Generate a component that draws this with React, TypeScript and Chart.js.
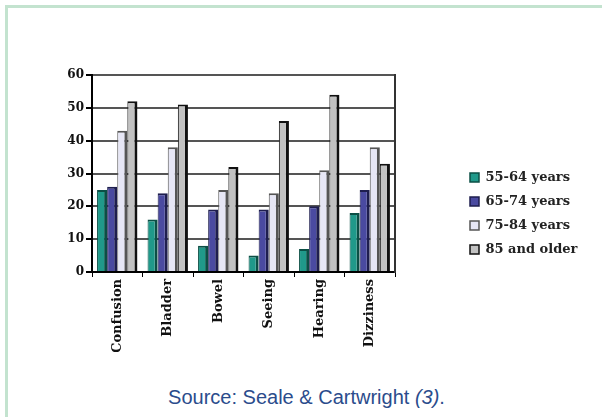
import React, { useEffect, useRef } from "react";
import { Chart, registerables } from "chart.js";

Chart.register(...registerables);

const categories = ["Confusion", "Bladder", "Bowel", "Seeing", "Hearing", "Dizziness"];
const seriesLabels = ["55-64 years", "65-74 years", "75-84 years", "85 and older"];
const s5564 = [25, 16, 8, 5, 7, 18];
const s6574 = [26, 24, 19, 19, 20, 25];
const s7584 = [43, 38, 25, 24, 31, 38];
const s85 = [52, 51, 32, 46, 54, 33];
const yTicks = [0, 10, 20, 30, 40, 50, 60];

const fills = ["#20998a", "#4a4aa0", "#e6e6f5", "#c2c2c2"];
const borders = ["#0b4f45", "#1e1e4e", "#555555", "#111111"];

const LEGEND_FONT = { family: "DejaVu Serif", size: 13, weight: "bold" as const };

export default function App() {
  const ref = useRef<HTMLCanvasElement | null>(null);

  useEffect(() => {
    if (!ref.current) return;
    const canvasW = 560;
    const plotRight = 355;
    const frameW = 64;
    const boxW = 9;
    const legendPad = 11;
    const mctx = document.createElement("canvas").getContext("2d")!;
    mctx.font = `bold ${LEGEND_FONT.size}px ${LEGEND_FONT.family}`;
    const textW = Math.max(...seriesLabels.map((t) => mctx.measureText(t).width));
    const legendW = legendPad + boxW + LEGEND_FONT.size / 2 + textW + 10;
    const padRight = Math.max(0, canvasW - plotRight - frameW - legendW);

    const values = [s5564, s6574, s7584, s85];
    const chart = new Chart(ref.current, {
      type: "bar",
      data: {
        labels: categories,
        datasets: values.map((v, i) => ({
          label: seriesLabels[i],
          data: v,
          backgroundColor: fills[i],
          borderColor: borders[i],
          borderWidth: { left: 1, right: 3, top: 2, bottom: 0 },
          borderSkipped: false as any,
          categoryPercentage: 0.8,
          barPercentage: 1.0,
        })),
      },
      options: {
        responsive: false,
        animation: false,
        devicePixelRatio: 1,
        layout: { padding: { left: 20, top: 15, right: padRight, bottom: 8 } },
        plugins: {
          tooltip: { enabled: false },
          legend: {
            position: "right",
            maxWidth: Math.ceil(legendW) + 2,
            labels: {
              boxWidth: boxW,
              boxHeight: 9,
              padding: legendPad,
              color: "#222",
              font: LEGEND_FONT,
            },
          },
        },
        scales: {
          x: {
            afterFit: (s: any) => {
              s.height = 80;
            },
            grid: {
              display: true,
              drawOnChartArea: false,
              offset: true,
              tickLength: 5,
              color: "#000",
              lineWidth: 1,
            },
            border: { display: true, color: "#000", width: 2 },
            ticks: {
              minRotation: 90,
              maxRotation: 90,
              autoSkip: false,
              padding: 2,
              color: "#111",
              font: { family: "DejaVu Serif", size: 13, weight: "bold" },
            },
          },
          y: {
            min: 0,
            max: 60,
            afterFit: (s: any) => {
              s.width = 32;
            },
            afterBuildTicks: (s: any) => {
              s.ticks = yTicks.map((v) => ({ value: v }));
            },
            grid: {
              color: "#555",
              lineWidth: 2,
              tickLength: 6,
              tickColor: "#000",
            },
            border: { display: true, color: "#000", width: 2 },
            ticks: {
              padding: 2,
              color: "#111",
              font: { family: "DejaVu Serif", size: 12, weight: "bold" },
            },
          },
          frame: {
            type: "linear",
            position: "right",
            afterFit: (s: any) => {
              s.width = frameW;
            },
            grid: { display: false },
            ticks: { display: false },
            border: { display: true, color: "#333", width: 2 },
          },
        },
      },
    });
    return () => chart.destroy();
  }, []);

  return (
    <div style={{ position: "fixed", left: 0, top: 0, width: 602, height: 417, background: "#fff", overflow: "hidden" }}>
      <div
        style={{
          position: "absolute",
          left: 5,
          top: 5,
          width: 700,
          height: 500,
          borderLeft: "3px solid #c3e3cf",
          borderTop: "3px solid #c3e3cf",
        }}
      />
      <canvas
        ref={ref}
        width={560}
        height={300}
        style={{ position: "absolute", left: 40, top: 60, width: 560, height: 300 }}
      />
      <div
        style={{
          position: "absolute",
          left: 10,
          width: 593,
          top: 387,
          textAlign: "center",
          fontFamily: "'Liberation Sans', Arial, sans-serif",
          fontSize: 20,
          lineHeight: 1,
          color: "#2b4c8c",
          whiteSpace: "nowrap",
        }}
      >
        Source: Seale &amp; Cartwright <i>(3)</i>.
      </div>
    </div>
  );
}
